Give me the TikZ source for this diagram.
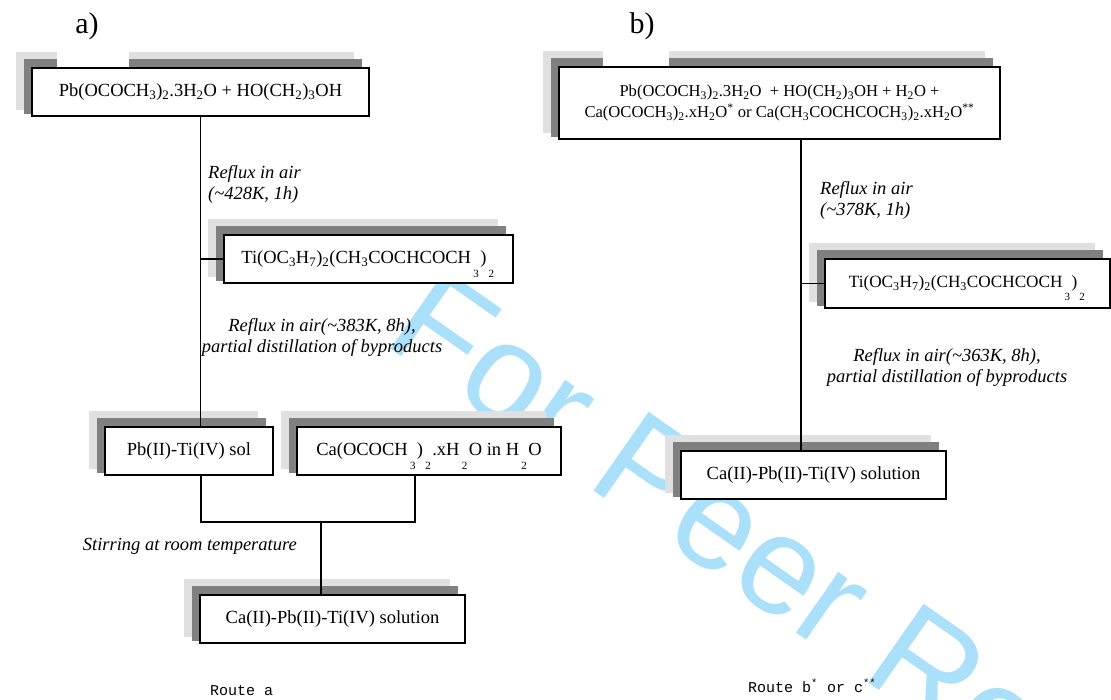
\documentclass[tikz,border=0pt]{standalone}
\usepackage{fontspec}
\setmainfont{Liberation Serif}
\setmonofont{Liberation Mono}
\newfontfamily\markfont{Liberation Sans}
\usetikzlibrary{calc,positioning}
\pgfdeclarelayer{mark}
\pgfdeclarelayer{background}
\pgfsetlayers{mark,background,main}
\definecolor{wmblue}{RGB}{170,224,250}
\newcommand{\sub}[1]{\textsubscript{#1}}
% subscripts that sit too low, as printed
\newcommand{\lowsub}[1]{\hspace{0.12em}\raisebox{-0.75em}[0pt][0pt]{\fontsize{11}{11}\selectfont #1}\hspace{0.08em}}
% two grey shadows behind a box
\newcommand{\shadows}[1]{%
  \begin{pgfonlayer}{background}
    \fill[shlight] ($(#1.north west)+(-15,-15)$) rectangle ($(#1.south east)+(-16,-7)$);
    \fill[shdark] ($(#1.north west)+(-7,-8)$) rectangle ($(#1.south east)+(-8,-3)$);
  \end{pgfonlayer}}
\tikzset{
  stage/.style={draw, line width=1.8pt, fill=white, inner sep=0pt, align=center},
  cond/.style={font=\fontsize{18.5}{21}\selectfont\itshape, inner sep=0pt},
  link/.style={line width=1.2pt},
  shlight/.style={fill=black!12},
  shdark/.style={fill=black!50},
  route/.style={font=\ttfamily\fontsize{15}{15}\selectfont, inner sep=0pt, anchor=base west},
  part/.style={font=\fontsize{30}{30}\selectfont, inner sep=0pt},
  wmark/.style={font=\markfont\fontsize{140}{140}\selectfont, text=wmblue, inner sep=0pt},
}
\begin{document}
\begin{tikzpicture}[x=1pt, y=-1pt, every node/.append style={font=\fontsize{18.5}{21}\selectfont}]
  \useasboundingbox (0,0) rectangle (1111,699);
  \begin{pgfonlayer}{mark}
    \node[wmark, rotate=-35, anchor=base west] (wm) at (381,342) {For Peer Review};
  \end{pgfonlayer}

  % route a
  \node[part] (pa) at (87,26) {a)};
  \node[stage, minimum width=337, minimum height=48] (a1) at (200.5,92) {Pb(OCOCH\sub3)\sub2.3H\sub2O + HO(CH\sub2)\sub3OH};
  \node[stage, minimum width=289, minimum height=48] (a2) at (368.5,259) {Ti(OC\sub3H\sub7)\sub2(CH\sub3COCHCOCH\lowsub3)\lowsub2};
  \node[stage, minimum width=168, minimum height=48] (a3) at (189,451) {Pb(II)-Ti(IV) sol};
  \node[stage, minimum width=264, minimum height=48] (a4) at (429,451) {Ca(OCOCH\lowsub3)\lowsub2.xH\lowsub2O in H\lowsub2O};
  \node[stage, minimum width=265, minimum height=48] (a5) at (332.5,619) {Ca(II)-Pb(II)-Ti(IV) solution};
  \foreach \n in {a1,a2,a3,a4,a5} {\shadows{\n}}
  \begin{pgfonlayer}{background}
    \fill[white] (57,40) rectangle (129,68);
  \end{pgfonlayer}

  \node[cond, anchor=north west, align=left] (ra1) at (208,165) {Reflux in air\\(\textasciitilde428K, 1h)};
  \node[cond, align=center] (ra2) at (322,337) {Reflux in air(\textasciitilde383K, 8h),\\partial distillation of byproducts};
  \node[cond, anchor=east] (ra3) at (297,546) {Stirring at room temperature};

  \draw[link] (a1.south) -- (a1.south |- a3.north);
  \draw[link] (a1.south |- a2.west) -- (a2.west);
  \coordinate (ja) at (201,522);
  \coordinate (jb) at (415,522);
  \coordinate (jm) at (321,522);
  \draw[link] (ja |- a3.south) -- (ja) -- (jb) -- (jb |- a4.south);
  \draw[link] (jm) -- (jm |- a5.north);

  \node[route] (rta) at (210,695) {Route a};

  % route b / c
  \node[part] (pb) at (642,26) {b)};
  \node[stage, minimum width=441, minimum height=72, font=\fontsize{16.6}{21}\selectfont] (b1) at (779.5,103) {Pb(OCOCH\sub3)\sub2.3H\sub2O\ \ + HO(CH\sub2)\sub3OH + H\sub2O +\\Ca(OCOCH\sub3)\sub2.xH\sub2O\textsuperscript{*} or Ca(CH\sub3COCHCOCH\sub3)\sub2.xH\sub2O\textsuperscript{**}};
  \node[stage, minimum width=285, minimum height=49, font=\fontsize{17.2}{21}\selectfont] (b2) at (967.5,283.5) {Ti(OC\sub3H\sub7)\sub2(CH\sub3COCHCOCH\lowsub3)\lowsub2};
  \node[stage, minimum width=265, minimum height=48] (b3) at (813.5,475) {Ca(II)-Pb(II)-Ti(IV) solution};
  \foreach \n in {b1,b2,b3} {\shadows{\n}}
  \begin{pgfonlayer}{background}
    \fill[white] (603,40) rectangle (669,67);
  \end{pgfonlayer}

  \node[cond, anchor=north west, align=left] (rb1) at (820,181) {Reflux in air\\(\textasciitilde378K, 1h)};
  \node[cond, align=center] (rb2) at (947,367) {Reflux in air(\textasciitilde363K, 8h),\\partial distillation of byproducts};

  \coordinate (jb1) at (801,0);
  \draw[link] (jb1 |- b1.south) -- (jb1 |- b3.north);
  \draw[link] (jb1 |- b2.west) -- (b2.west);

  \node[route] (rtb) at (748,692) {Route b\textsuperscript{*} or c\textsuperscript{**}};
\end{tikzpicture}
\end{document}
